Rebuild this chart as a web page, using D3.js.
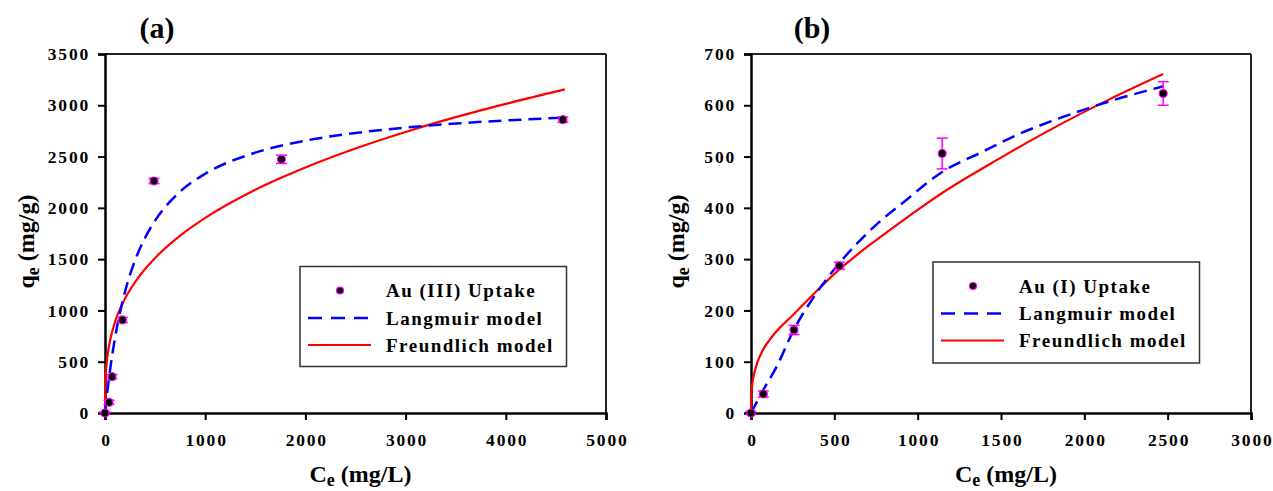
<!DOCTYPE html>
<html><head><meta charset="utf-8">
<script src="https://cdn.jsdelivr.net/npm/d3@7"></script>
<style>
html,body{margin:0;padding:0;background:#fff;}
svg text{font-family:"Liberation Serif","Times New Roman",serif;font-weight:bold;fill:#000;}
</style></head>
<body><svg id="chart" width="1273" height="491"></svg>
<script>
// ---- Panel (a) Au(III) ----
const aCe = [0, 40, 70, 173, 489, 1761, 4570];
const aQe = [0, 104, 354, 907, 2262, 2473, 2860];
const aErr = [10, 20, 20, 25, 25, 40, 25];
const aLangC = [0, 10, 25, 50, 100, 150, 200, 300, 400, 500, 750, 1000, 1500, 2000, 2500, 3000, 3500, 4000, 4590];
const aLangQ = [0, 93, 223, 415, 732, 981, 1183, 1488, 1709, 1876, 2158, 2332, 2538, 2655, 2730, 2783, 2822, 2852, 2880];
const aFreC = [0, 2, 5, 10, 25, 50, 100, 200, 350, 500, 750, 1000, 1500, 2000, 2500, 3000, 3500, 4000, 4590];
const aFreQ = [0, 242, 328, 412, 559, 704, 886, 1115, 1343, 1511, 1729, 1902, 2177, 2394, 2579, 2740, 2884, 3014, 3155];
const aXTicks = [0, 1000, 2000, 3000, 4000, 5000];
const aYTicks = [0, 500, 1000, 1500, 2000, 2500, 3000, 3500];

// ---- Panel (b) Au(I) ----
const bCe = [0, 74, 258, 530, 1147, 2473];
const bQe = [0, 37, 162, 287, 506, 623];
const bErr = [3, 6, 9, 7, 30, 23];
const bLangC = [0, 74, 150, 258, 374, 530, 734, 934, 1147, 1394, 1594, 1794, 1994, 2194, 2393, 2473];
const bLangQ = [0, 45, 88, 163, 225, 292, 362, 416, 470, 510, 542, 568, 591, 612, 630, 637];
const bFreC = [0, 1, 3, 10, 20, 40, 70, 134, 258, 400, 534, 634, 834, 1034, 1147, 1500, 1800, 2153, 2473];
const bFreQ = [0, 27, 40, 61, 78, 100, 122, 152, 193, 240, 281, 308, 357, 404, 429, 498, 553, 612, 661];
const bXTicks = [0, 500, 1000, 1500, 2000, 2500, 3000];
const bYTicks = [0, 100, 200, 300, 400, 500, 600, 700];

const legendA = ["Au (III) Uptake", "Langmuir model", "Freundlich model"];
const legendB = ["Au (I) Uptake", "Langmuir model", "Freundlich model"];

const svg = d3.select("#chart");

function panel(o) {
  const x = d3.scaleLinear().domain([0, o.xMax]).range([o.left, o.right]);
  const y = d3.scaleLinear().domain([0, o.yMax]).range([o.bottom, o.top]);
  const g = svg.append("g");

  // frame top/right
  g.append("line").attr("x1", o.left).attr("x2", o.right).attr("y1", o.top).attr("y2", o.top)
    .attr("stroke", "#222").attr("stroke-width", 2);
  g.append("line").attr("x1", o.right).attr("x2", o.right).attr("y1", o.top).attr("y2", o.bottom)
    .attr("stroke", "#222").attr("stroke-width", 2);

  const xAxis = g.append("g").attr("transform", `translate(0,${o.bottom})`)
    .call(d3.axisBottom(x).tickValues(o.xTicks).tickSize(7).tickPadding(14).tickFormat(d3.format("d")));
  const yAxis = g.append("g").attr("transform", `translate(${o.left},0)`)
    .call(d3.axisLeft(y).tickValues(o.yTicks).tickSize(7).tickPadding(8).tickFormat(d3.format("d")));
  [xAxis, yAxis].forEach(a => {
    a.select(".domain").attr("stroke", "#000").attr("stroke-width", 2.5);
    a.selectAll(".tick line").attr("stroke", "#000").attr("stroke-width", 2);
    a.selectAll(".tick text").style("font-size", "17.5px").style("letter-spacing", "1.8px")
      .style("font-family", "'Liberation Serif',serif").style("font-weight", "bold").attr("fill", "#000");
  });
  xAxis.selectAll(".tick text").attr("dx", "0.9px");

  // curves
  const line = d3.line().x(d => x(d[0])).y(d => y(d[1])).curve(d3.curveMonotoneX);
  const fre = d3.zip(o.freC, o.freQ);
  const lang = d3.zip(o.langC, o.langQ);
  g.append("path").datum(fre).attr("d", line).attr("fill", "none").attr("stroke", "#FF0000").attr("stroke-width", 2.2);
  g.append("path").datum(lang).attr("d", line).attr("fill", "none").attr("stroke", "#0000FF")
    .attr("stroke-width", 2.5).attr("stroke-dasharray", "13,7");

  // points with error bars
  const pts = d3.range(o.ce.length).map(i => ({c: o.ce[i], q: o.qe[i], e: o.err[i]}));
  const eg = g.append("g");
  pts.forEach(p => {
    const cx = x(p.c), y1 = y(p.q + p.e), y2 = y(p.q - p.e);
    eg.append("line").attr("x1", cx).attr("x2", cx).attr("y1", y1).attr("y2", y2).attr("stroke", "#FF00FF").attr("stroke-width", 1.5);
    eg.append("line").attr("x1", cx - 5.5).attr("x2", cx + 5.5).attr("y1", y1).attr("y2", y1).attr("stroke", "#FF00FF").attr("stroke-width", 1.5);
    eg.append("line").attr("x1", cx - 5.5).attr("x2", cx + 5.5).attr("y1", y2).attr("y2", y2).attr("stroke", "#FF00FF").attr("stroke-width", 1.5);
  });
  g.selectAll("circle.pt").data(pts).join("circle").attr("class", "pt")
    .attr("cx", d => x(d.c)).attr("cy", d => y(d.q)).attr("r", 4)
    .attr("fill", "#000").attr("stroke", "#FF00FF").attr("stroke-width", 1.2);

  // panel label
  g.append("text").attr("x", o.labelX).attr("y", 38).attr("text-anchor", "middle")
    .style("font-size", "30px").text(o.label);

  // x title
  const xt = g.append("text").attr("x", (o.left + o.right) / 2 + 5).attr("y", 482).attr("text-anchor", "middle")
    .style("font-size", "24px");
  xt.append("tspan").text("C");
  xt.append("tspan").attr("dy", 4).style("font-size", "18px").text("e");
  xt.append("tspan").attr("dy", -4).text(" (mg/L)");

  // y title
  const yt = g.append("text").attr("transform", `translate(${o.yTitleX},${(o.top + o.bottom) / 2 + 8}) rotate(-90)`)
    .attr("text-anchor", "middle").style("font-size", "24px");
  yt.append("tspan").text("q");
  yt.append("tspan").attr("dy", 5).style("font-size", "18px").text("e");
  yt.append("tspan").attr("dy", -5).text(" (mg/g)");

  // legend
  const L = o.legend;
  g.append("rect").attr("x", L.x).attr("y", L.y).attr("width", L.w).attr("height", L.h)
    .attr("fill", "#fff").attr("stroke", "#333").attr("stroke-width", 1.5);
  const rows = [L.y + 24, L.y + 51.5, L.y + 78.5];
  g.append("circle").attr("cx", L.x + L.dot).attr("cy", rows[0]).attr("r", 3.5)
    .attr("fill", "#000").attr("stroke", "#FF00FF").attr("stroke-width", 1.2);
  g.append("line").attr("x1", L.x + 8).attr("x2", L.x + 71).attr("y1", rows[1]).attr("y2", rows[1])
    .attr("stroke", "#0000FF").attr("stroke-width", 2.5).attr("stroke-dasharray", "14,9");
  g.append("line").attr("x1", L.x + 8).attr("x2", L.x + 71).attr("y1", rows[2]).attr("y2", rows[2])
    .attr("stroke", "#FF0000").attr("stroke-width", 2.2);
  o.legendText.forEach((t, i) => {
    g.append("text").attr("x", L.x + L.tx).attr("y", rows[i] + 6.5).style("font-size", "19px")
      .style("letter-spacing", "1.5px").text(t);
  });
}

panel({
  left: 105, right: 606, top: 54, bottom: 413, xMax: 5000, yMax: 3500,
  xTicks: aXTicks, yTicks: aYTicks,
  ce: aCe, qe: aQe, err: aErr, langC: aLangC, langQ: aLangQ, freC: aFreC, freQ: aFreQ,
  label: "(a)", labelX: 157, yTitleX: 34,
  legend: {x: 300, y: 266.5, w: 266.5, h: 100, dot: 40, tx: 86},
  legendText: legendA
});
panel({
  left: 751, right: 1251, top: 54, bottom: 413, xMax: 3000, yMax: 700,
  xTicks: bXTicks, yTicks: bYTicks,
  ce: bCe, qe: bQe, err: bErr, langC: bLangC, langQ: bLangQ, freC: bFreC, freQ: bFreQ,
  label: "(b)", labelX: 812, yTitleX: 684,
  legend: {x: 933, y: 262, w: 266.5, h: 101, dot: 40, tx: 86},
  legendText: legendB
});
</script>
</body></html>
